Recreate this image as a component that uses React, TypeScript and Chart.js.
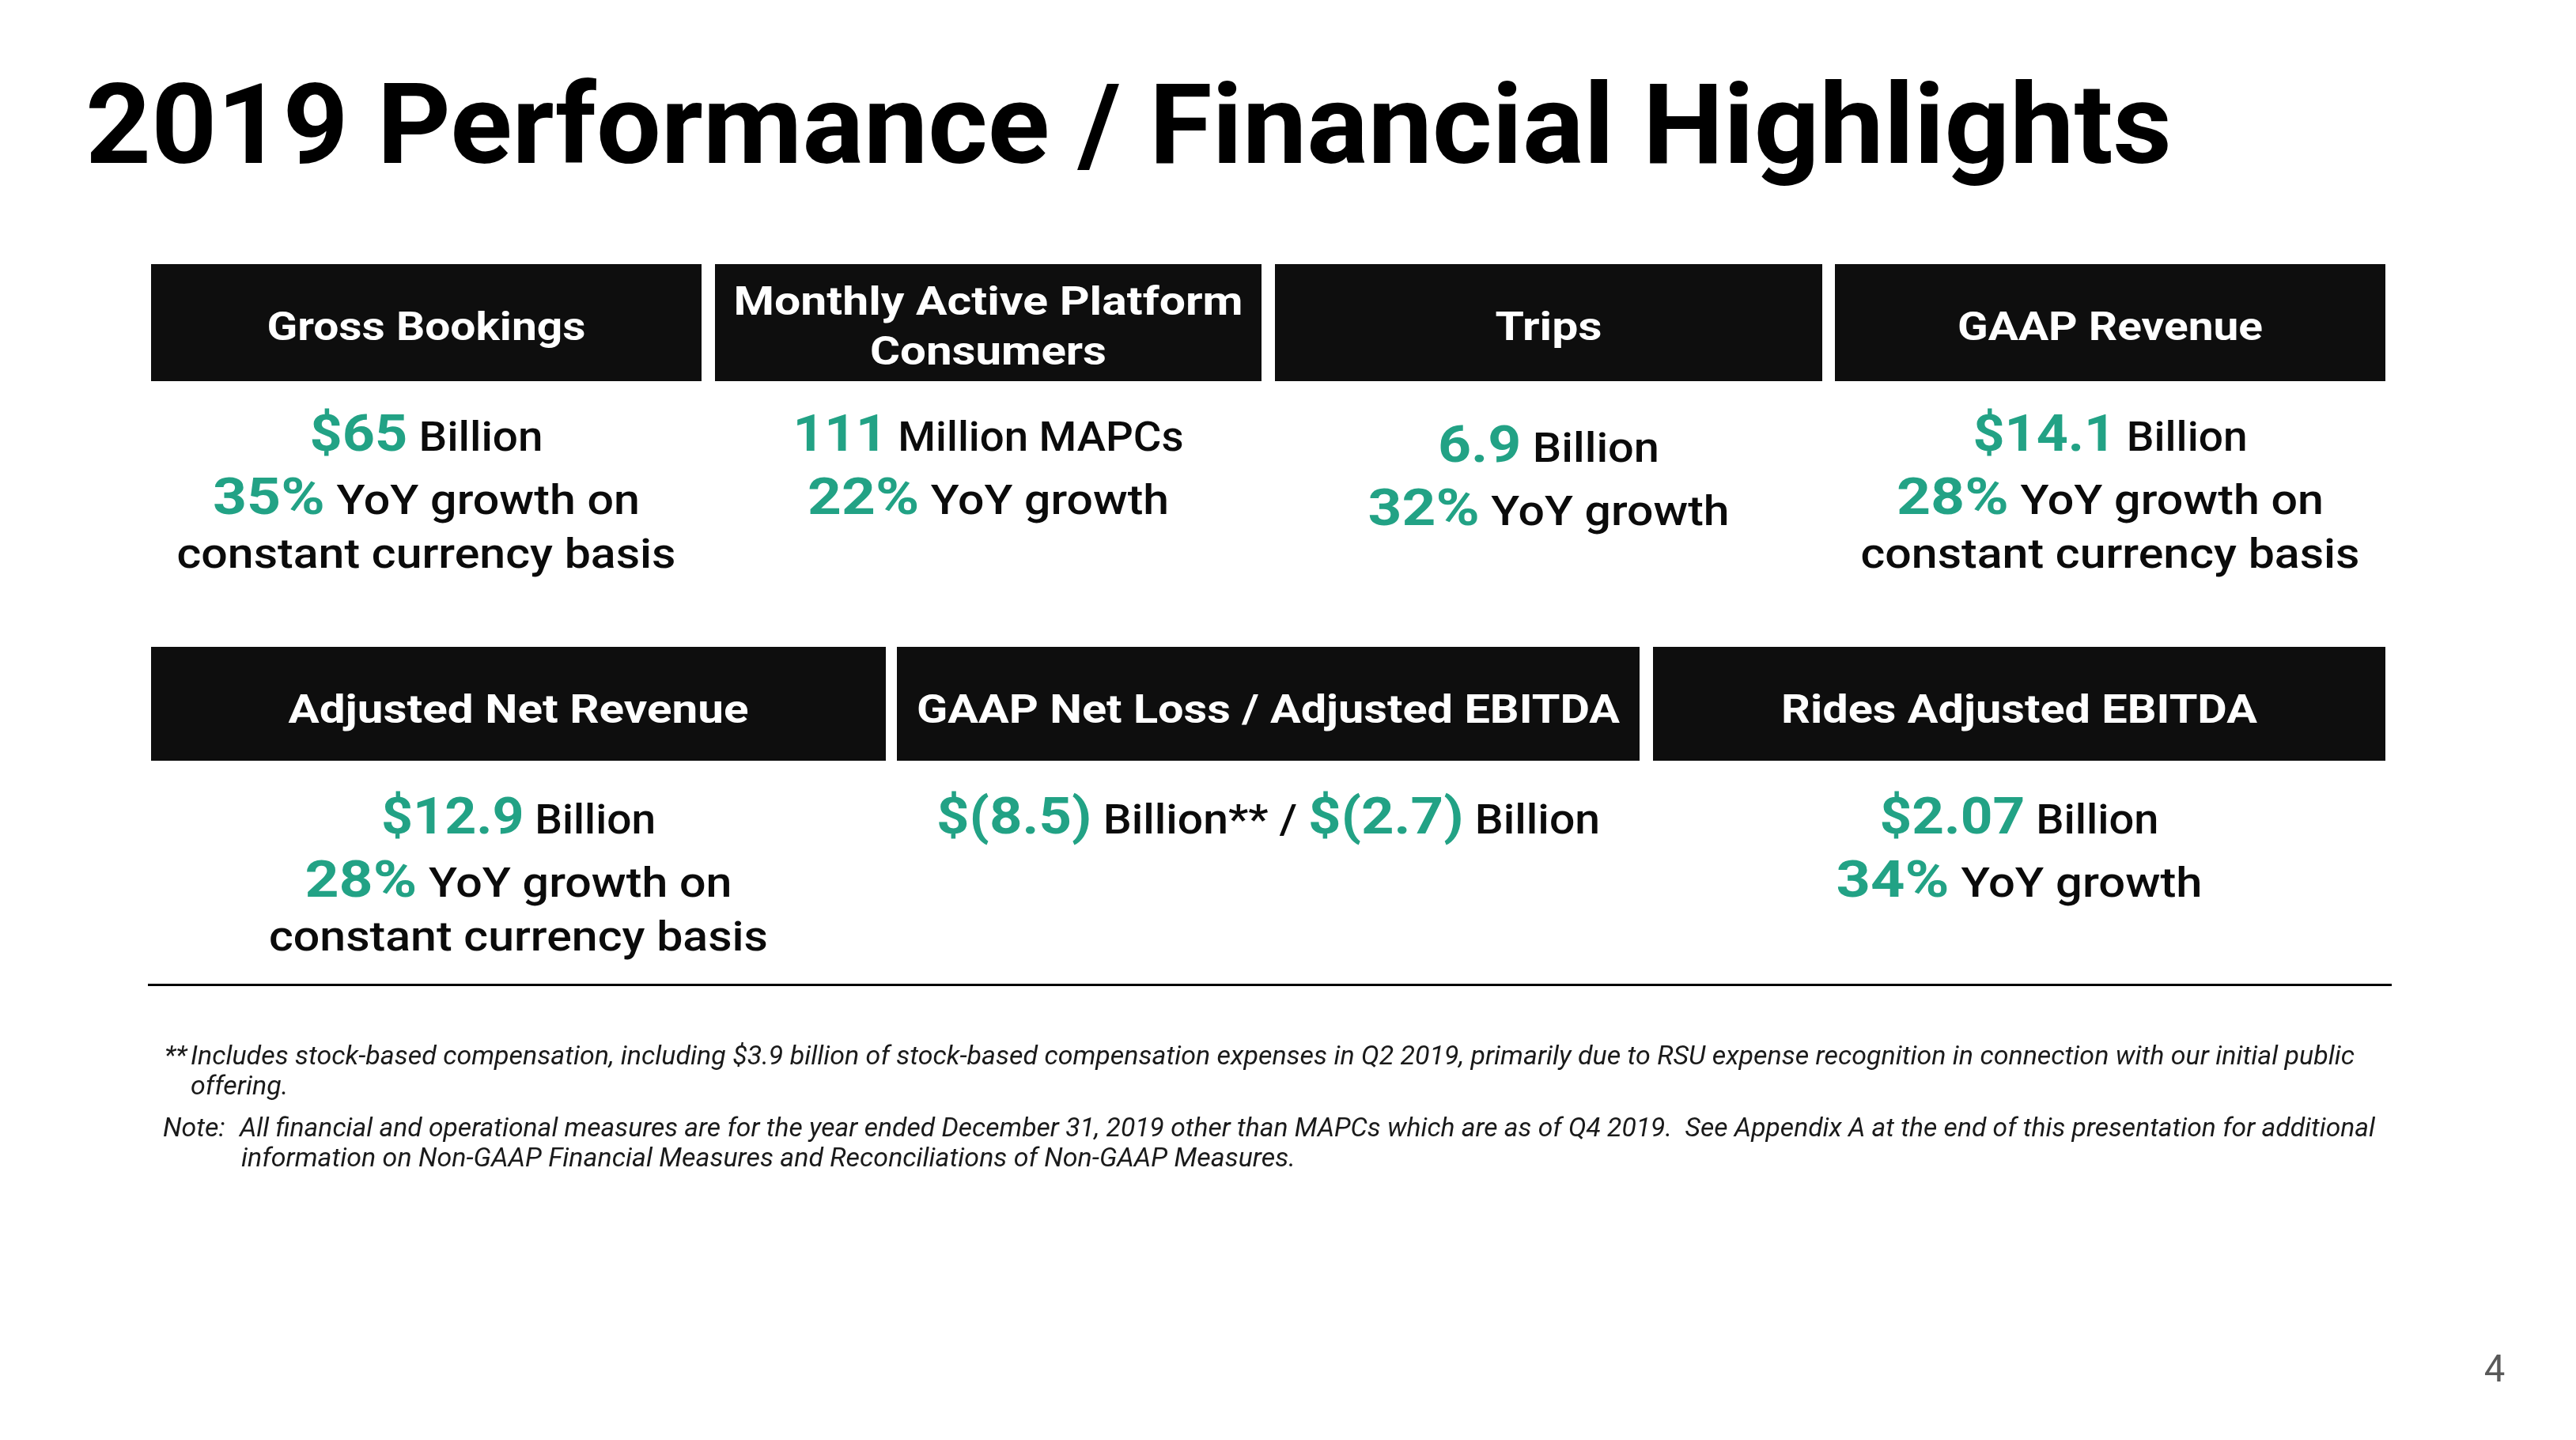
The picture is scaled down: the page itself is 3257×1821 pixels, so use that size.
import React, { useEffect, useRef } from "react";
import { Chart, registerables } from "chart.js";

Chart.register(...registerables);

// ---------------- data ----------------
const titleText = "2019 Performance / Financial Highlights";
const metricCategories = [
  "Gross Bookings",
  "Monthly Active Platform Consumers",
  "Trips",
  "GAAP Revenue",
  "Adjusted Net Revenue",
  "GAAP Net Loss / Adjusted EBITDA",
  "Rides Adjusted EBITDA",
];
const headlineValues = ["$65", "111", "6.9", "$14.1", "$12.9", "$(8.5)", "$2.07"];
const headlineUnits = ["Billion", "Million MAPCs", "Billion", "Billion", "Billion", "Billion**", "Billion"];
const secondValues = ["", "", "", "", "", "$(2.7)", ""];
const secondUnits = ["", "", "", "", "", "Billion", ""];
const growthValues = ["35%", "22%", "32%", "28%", "28%", "", "34%"];
const growthLabels = ["YoY growth on", "YoY growth", "YoY growth", "YoY growth on", "YoY growth on", "", "YoY growth"];
const basisNotes = ["constant currency basis", "", "", "constant currency basis", "constant currency basis", "", ""];
const footnoteMarks = ["**", "Note:"];
const footnoteLines = [
  [
    "Includes stock-based compensation, including $3.9 billion of stock-based compensation expenses in Q2 2019, primarily due to RSU expense recognition in connection with our initial public",
    "offering.",
  ],
  [
    "All financial and operational measures are for the year ended December 31, 2019 other than MAPCs which are as of Q4 2019.  See Appendix A at the end of this presentation for additional",
    "information on Non-GAAP Financial Measures and Reconciliations of Non-GAAP Measures.",
  ],
];
const pageNumber = "4";

// ---------------- layout / style ----------------
const W = 3257;
const H = 1821;
const GREEN = "#22a285";
const BLACK = "#0b0b0b";
const BOX = "#0e0e0e";
const FAMILY = "Roboto, 'Liberation Sans', sans-serif";

const boxLayout = [
  { x0: 191, x1: 887, top: 334, bottom: 482 },
  { x0: 904, x1: 1595, top: 334, bottom: 482 },
  { x0: 1612, x1: 2304, top: 334, bottom: 482 },
  { x0: 2320, x1: 3016, top: 334, bottom: 482 },
  { x0: 191, x1: 1120, top: 818, bottom: 962 },
  { x0: 1134, x1: 2073, top: 818, bottom: 962 },
  { x0: 2090, x1: 3016, top: 818, bottom: 962 },
];
const headerWidths = [[403], [644, 299], [135], [386], [582], [889], [602]];
const bodyWidths = [[295, 540, 631], [494, 457], [280, 457], [347, 540, 631], [347, 540, 631], [839], [353, 463]];
const bodyOffsets = [236, 316, 384];
const bodyShift = [0, 0, 14, 0, 0, 0, 0];
const HEADER_CAP = 36;
const GREEN_CAP = 47;
const BLACK_CAP = 37;

type Run = { text: string; color: string; cap: number; weight: number; style?: string; family?: string };

const ratioCache: Record<string, number> = {};
function capRatio(ctx: CanvasRenderingContext2D, r: Run) {
  const key = `${r.style || "normal"} ${r.weight} ${r.family || FAMILY}`;
  if (ratioCache[key]) return ratioCache[key];
  ctx.font = `${r.style || "normal"} ${r.weight} 100px ${r.family || FAMILY}`;
  const m = ctx.measureText("H");
  const v = m.actualBoundingBoxAscent ? m.actualBoundingBoxAscent / 100 : 0.71;
  ratioCache[key] = v;
  return v;
}

function prep(ctx: CanvasRenderingContext2D, runs: Run[]) {
  return runs.map((r) => {
    const size = r.cap / capRatio(ctx, r);
    const font = `${r.style || "normal"} ${r.weight} ${size}px ${r.family || FAMILY}`;
    ctx.font = font;
    return { ...r, font, w: ctx.measureText(r.text).width };
  });
}

function drawRuns(
  ctx: CanvasRenderingContext2D,
  runs: Run[],
  x: number,
  baseline: number,
  targetW: number | null,
  align: "center" | "left",
  fixedScale?: number
) {
  const p = prep(ctx, runs);
  const total = p.reduce((a, b) => a + b.w, 0);
  const s = fixedScale ?? (targetW ? targetW / total : 1);
  const drawnW = total * s;
  const start = align === "center" ? x - drawnW / 2 : x;
  ctx.save();
  ctx.translate(start, baseline);
  ctx.scale(s, 1);
  ctx.textAlign = "left";
  ctx.textBaseline = "alphabetic";
  let cx = 0;
  for (const r of p) {
    ctx.font = r.font;
    ctx.fillStyle = r.color;
    ctx.fillText(r.text, cx, 0);
    cx += r.w;
  }
  ctx.restore();
  return s;
}

function splitHeader(ctx: CanvasRenderingContext2D, text: string, n: number, widths: number[]) {
  if (n <= 1) return [text];
  const words = text.split(" ");
  const run: Run = { text: "", color: "#fff", cap: HEADER_CAP, weight: 700 };
  const full = prep(ctx, [{ ...run, text }])[0].w;
  const want = widths[0] / (widths[0] + widths[1]);
  let best = 1;
  let bestD = 1e9;
  for (let k = 1; k < words.length; k++) {
    const a = prep(ctx, [{ ...run, text: words.slice(0, k).join(" ") }])[0].w;
    const d = Math.abs(a / full - want);
    if (d < bestD) {
      bestD = d;
      best = k;
    }
  }
  return [words.slice(0, best).join(" "), words.slice(best).join(" ")];
}

const slidePlugin = {
  id: "slide",
  beforeDraw(chart: any) {
    const ctx: CanvasRenderingContext2D = chart.ctx;
    ctx.save();
    ctx.fillStyle = "#ffffff";
    ctx.fillRect(0, 0, chart.width, chart.height);
    ctx.restore();
  },
  afterDraw(chart: any) {
    const ctx: CanvasRenderingContext2D = chart.ctx;
    ctx.save();

    // title
    drawRuns(ctx, [{ text: titleText, color: "#000", cap: 101, weight: 700 }], 108, 206, 2638, "left");

    // boxes
    metricCategories.forEach((cat, i) => {
      const b = boxLayout[i];
      const w = b.x1 - b.x0;
      ctx.fillStyle = BOX;
      ctx.fillRect(b.x0, b.top, w, b.bottom - b.top);
      const cx = b.x0 + w / 2;
      const hw = headerWidths[i];
      const lines = splitHeader(ctx, cat, hw.length, hw);
      if (lines.length === 1) {
        drawRuns(ctx, [{ text: lines[0], color: "#fff", cap: HEADER_CAP, weight: 700 }], cx, b.top + 96, hw[0], "center");
      } else {
        lines.forEach((ln, k) => {
          drawRuns(ctx, [{ text: ln, color: "#fff", cap: HEADER_CAP, weight: 700 }], cx, b.top + 64 + k * 63, hw[k], "center");
        });
      }

      // body lines
      const body: Run[][] = [];
      const l1: Run[] = [
        { text: headlineValues[i], color: GREEN, cap: GREEN_CAP, weight: 700 },
        { text: " " + headlineUnits[i] + (secondValues[i] ? " / " : ""), color: BLACK, cap: BLACK_CAP, weight: 500 },
      ];
      if (secondValues[i]) {
        l1.push({ text: secondValues[i], color: GREEN, cap: GREEN_CAP, weight: 700 });
        l1.push({ text: " " + secondUnits[i], color: BLACK, cap: BLACK_CAP, weight: 500 });
      }
      body.push(l1);
      if (growthValues[i]) {
        body.push([
          { text: growthValues[i], color: GREEN, cap: GREEN_CAP, weight: 700 },
          { text: " " + growthLabels[i], color: BLACK, cap: BLACK_CAP, weight: 500 },
        ]);
      }
      if (basisNotes[i]) {
        body.push([{ text: basisNotes[i], color: BLACK, cap: BLACK_CAP, weight: 500 }]);
      }
      body.forEach((runs, k) => {
        drawRuns(ctx, runs, cx, b.top + bodyOffsets[k] + bodyShift[i], bodyWidths[i][k], "center");
      });
    });

    // rule
    ctx.fillStyle = "#000";
    ctx.fillRect(187, 1244, 3024 - 187, 3);

    // footnotes
    const fn = (text: string): Run => ({ text, color: "#1a1a1a", cap: 24, weight: 400, style: "italic" });
    const s = drawRuns(ctx, [fn(footnoteLines[0][0])], 241, 1346, 2736, "left");
    drawRuns(ctx, [fn(footnoteMarks[0])], 208, 1346, null, "left", s);
    drawRuns(ctx, [fn(footnoteLines[0][1])], 241, 1384, null, "left", s);
    drawRuns(ctx, [fn(footnoteMarks[1])], 206, 1437, null, "left", s);
    drawRuns(ctx, [fn(footnoteLines[1][0])], 303, 1437, 2700, "left");
    drawRuns(ctx, [fn(footnoteLines[1][1])], 305, 1475, null, "left", s);

    // page number
    drawRuns(ctx, [{ text: pageNumber, color: "#595959", cap: 34, weight: 400 }], 3154, 1747, null, "center");

    ctx.restore();
  },
};

export default function App() {
  const ref = useRef<HTMLCanvasElement | null>(null);
  useEffect(() => {
    document.body.style.margin = "0";
    document.body.style.overflow = "hidden";
    const canvas = ref.current;
    if (!canvas) return;
    const chart = new Chart(canvas, {
      type: "bar",
      data: { labels: metricCategories, datasets: [] },
      options: {
        animation: false,
        responsive: false,
        devicePixelRatio: 1,
        events: [],
        layout: { padding: 0 },
        scales: { x: { display: false }, y: { display: false } },
        plugins: { legend: { display: false }, tooltip: { enabled: false }, title: { display: false } },
      },
      plugins: [slidePlugin],
    } as any);
    const fonts = [
      `normal 700 40px Roboto`,
      `normal 500 40px Roboto`,
      `normal 400 40px Roboto`,
      `italic 400 40px Roboto`,
    ];
    Promise.all(fonts.map((f) => (document as any).fonts.load(f)))
      .catch(() => null)
      .then(() => {
        for (const k of Object.keys(ratioCache)) delete ratioCache[k];
        chart.update();
      });
    return () => chart.destroy();
  }, []);
  return (
    <canvas
      ref={ref}
      width={W}
      height={H}
      style={{ display: "block", width: W + "px", height: H + "px" }}
    />
  );
}
